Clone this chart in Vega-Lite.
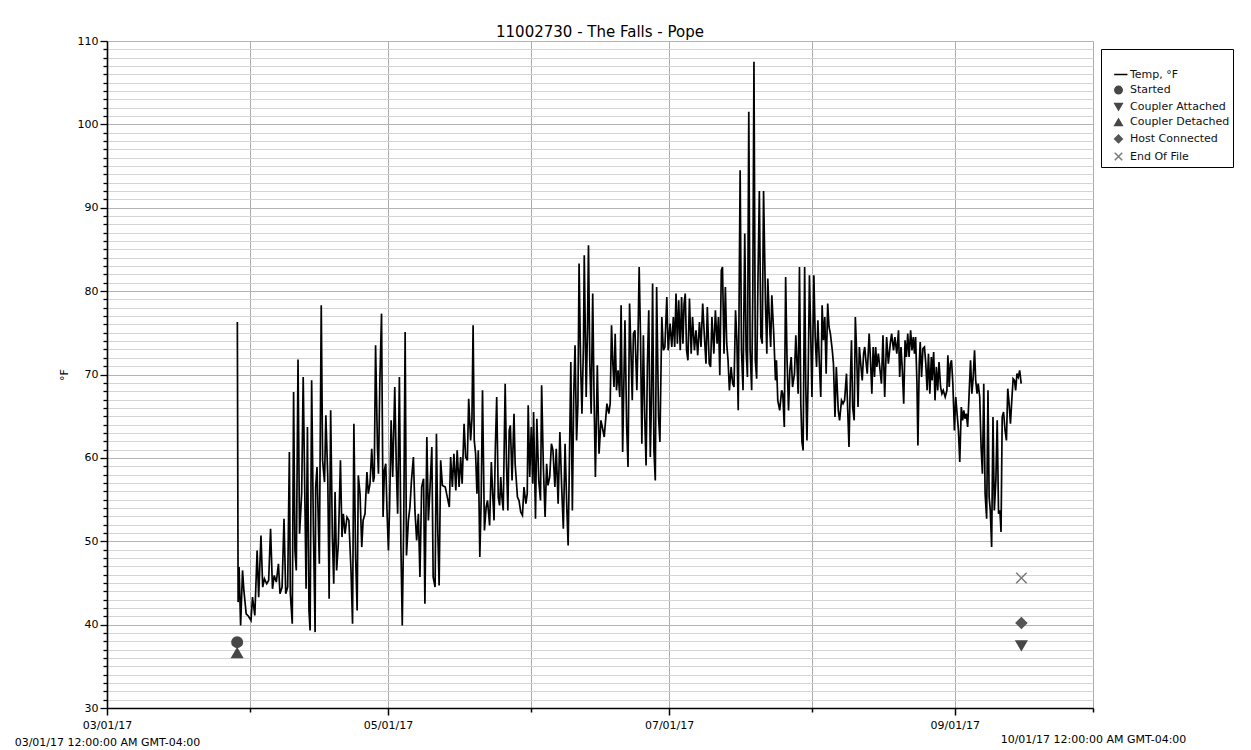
{
"$schema": "https://vega.github.io/schema/vega-lite/v6.json",
"width": 986,
"height": 667,
"autosize": {"type": "none"},
"padding": {"left": 107, "top": 41, "right": 158, "bottom": 42},
"background": "#ffffff",
"title": {"text": "11002730 - The Falls - Pope", "font": "DejaVu Sans", "fontSize": 15, "fontWeight": "normal", "color": "#000000", "anchor": "middle", "offset": 4, "dy": 9},
"config": {
  "font": "DejaVu Sans",
  "view": {"stroke": null},
  "legend": {"orient": "none", "legendX": 994, "legendY": 8, "strokeColor": "#000000", "fillColor": "#ffffff", "padding": 3, "labelFont": "DejaVu Sans", "labelFontSize": 11, "labelColor": "#111111", "labelOffset": 6, "symbolOffset": 9, "symbolSize": 56, "symbolStrokeWidth": 1.5, "rowPadding": 2.6, "titleFontSize": 10, "titlePadding": 7, "labelLimit": 200}
},
"datasets": {
"temp": [
{"t":"2017-03-29T07:00","v":76.3},{"t":"2017-03-29T11:00","v":42.7},{"t":"2017-03-29T16:00","v":46.9},{"t":"2017-03-30T00:00","v":39.9},{"t":"2017-03-30T10:00","v":46.5},{"t":"2017-03-30T17:00","v":44.1},{"t":"2017-03-31T05:00","v":41.3},{"t":"2017-03-31T17:00","v":41.0},{"t":"2017-04-01T06:00","v":40.5},{"t":"2017-04-01T14:00","v":43.3},
{"t":"2017-04-02T02:00","v":41.1},{"t":"2017-04-02T14:00","v":48.9},{"t":"2017-04-02T22:00","v":43.3},{"t":"2017-04-03T10:00","v":50.7},{"t":"2017-04-03T19:00","v":44.5},{"t":"2017-04-04T04:00","v":45.5},{"t":"2017-04-04T16:00","v":44.9},{"t":"2017-04-05T02:00","v":45.3},{"t":"2017-04-05T12:00","v":51.5},{"t":"2017-04-05T22:00","v":44.3},
{"t":"2017-04-06T07:00","v":45.9},{"t":"2017-04-06T18:00","v":45.1},{"t":"2017-04-07T05:00","v":47.3},{"t":"2017-04-07T13:00","v":43.7},{"t":"2017-04-08T00:00","v":44.5},{"t":"2017-04-08T10:00","v":52.7},{"t":"2017-04-08T19:00","v":43.7},{"t":"2017-04-09T05:00","v":44.5},{"t":"2017-04-09T14:00","v":60.7},{"t":"2017-04-09T19:00","v":43.7},
{"t":"2017-04-10T05:00","v":40.1},{"t":"2017-04-10T12:00","v":67.9},{"t":"2017-04-10T19:00","v":48.9},{"t":"2017-04-11T02:00","v":46.5},{"t":"2017-04-11T11:00","v":71.8},{"t":"2017-04-11T19:00","v":50.9},{"t":"2017-04-12T06:00","v":55.7},{"t":"2017-04-12T14:00","v":69.7},{"t":"2017-04-13T00:00","v":52.9},{"t":"2017-04-13T05:00","v":44.3},
{"t":"2017-04-13T12:00","v":63.7},{"t":"2017-04-13T20:00","v":41.7},{"t":"2017-04-14T02:00","v":39.3},{"t":"2017-04-14T10:00","v":69.3},{"t":"2017-04-14T19:00","v":51.7},{"t":"2017-04-15T04:00","v":39.1},{"t":"2017-04-15T07:00","v":56.5},{"t":"2017-04-15T14:00","v":58.9},{"t":"2017-04-16T02:00","v":47.3},{"t":"2017-04-16T12:00","v":78.3},
{"t":"2017-04-16T19:00","v":59.7},{"t":"2017-04-17T05:00","v":57.1},{"t":"2017-04-17T12:00","v":65.1},{"t":"2017-04-17T22:00","v":57.7},{"t":"2017-04-18T05:00","v":43.1},{"t":"2017-04-18T13:00","v":65.7},{"t":"2017-04-18T22:00","v":50.5},{"t":"2017-04-19T05:00","v":44.9},{"t":"2017-04-19T12:00","v":55.9},{"t":"2017-04-19T20:00","v":46.5},
{"t":"2017-04-20T05:00","v":49.7},{"t":"2017-04-20T16:00","v":59.7},{"t":"2017-04-21T00:00","v":50.5},{"t":"2017-04-21T07:00","v":53.3},{"t":"2017-04-21T16:00","v":50.9},{"t":"2017-04-22T02:00","v":52.9},{"t":"2017-04-22T12:00","v":52.5},{"t":"2017-04-22T23:00","v":46.5},{"t":"2017-04-23T07:00","v":40.1},{"t":"2017-04-23T14:00","v":64.1},
{"t":"2017-04-23T23:00","v":48.1},{"t":"2017-04-24T07:00","v":41.7},{"t":"2017-04-24T13:00","v":57.9},{"t":"2017-04-24T22:00","v":55.7},{"t":"2017-04-25T07:00","v":49.3},{"t":"2017-04-25T14:00","v":52.5},{"t":"2017-04-26T00:00","v":53.3},{"t":"2017-04-26T10:00","v":58.3},{"t":"2017-04-26T17:00","v":55.7},{"t":"2017-04-27T02:00","v":56.9},
{"t":"2017-04-27T11:00","v":61.1},{"t":"2017-04-27T19:00","v":57.1},{"t":"2017-04-28T00:00","v":57.7},{"t":"2017-04-28T07:00","v":73.5},{"t":"2017-04-28T17:00","v":61.1},{"t":"2017-04-28T22:00","v":58.1},{"t":"2017-04-29T05:00","v":68.9},{"t":"2017-04-29T14:00","v":77.3},{"t":"2017-04-29T22:00","v":52.9},{"t":"2017-04-30T05:00","v":58.5},
{"t":"2017-04-30T12:00","v":59.3},{"t":"2017-04-30T19:00","v":53.3},{"t":"2017-05-01T02:00","v":48.9},{"t":"2017-05-01T08:00","v":54.1},{"t":"2017-05-01T16:00","v":64.5},{"t":"2017-05-02T00:00","v":57.7},{"t":"2017-05-02T11:00","v":68.5},{"t":"2017-05-02T19:00","v":58.9},{"t":"2017-05-03T02:00","v":53.3},{"t":"2017-05-03T11:00","v":69.7},
{"t":"2017-05-03T19:00","v":49.3},{"t":"2017-05-04T02:00","v":39.9},{"t":"2017-05-04T10:00","v":52.9},{"t":"2017-05-04T17:00","v":75.1},{"t":"2017-05-05T00:00","v":48.3},{"t":"2017-05-05T10:00","v":52.5},{"t":"2017-05-05T18:00","v":54.1},{"t":"2017-05-06T02:00","v":57.3},{"t":"2017-05-06T12:00","v":60.1},{"t":"2017-05-06T20:00","v":53.7},
{"t":"2017-05-07T05:00","v":50.1},{"t":"2017-05-07T14:00","v":53.3},{"t":"2017-05-07T22:00","v":45.7},{"t":"2017-05-08T07:00","v":56.5},{"t":"2017-05-08T17:00","v":57.5},{"t":"2017-05-09T00:00","v":42.5},{"t":"2017-05-09T10:00","v":62.5},{"t":"2017-05-09T18:00","v":52.5},{"t":"2017-05-10T02:00","v":56.1},{"t":"2017-05-10T12:00","v":61.3},
{"t":"2017-05-10T19:00","v":45.7},{"t":"2017-05-11T05:00","v":44.5},{"t":"2017-05-11T12:00","v":62.9},{"t":"2017-05-11T19:00","v":51.3},{"t":"2017-05-12T02:00","v":44.7},{"t":"2017-05-12T10:00","v":59.7},{"t":"2017-05-12T19:00","v":56.7},{"t":"2017-05-13T10:00","v":56.5},{"t":"2017-05-14T00:00","v":54.9},{"t":"2017-05-14T07:00","v":54.1},
{"t":"2017-05-14T14:00","v":60.1},{"t":"2017-05-14T23:00","v":56.5},{"t":"2017-05-15T07:00","v":60.5},{"t":"2017-05-15T17:00","v":56.1},{"t":"2017-05-16T00:00","v":60.9},{"t":"2017-05-16T10:00","v":56.5},{"t":"2017-05-16T18:00","v":60.1},{"t":"2017-05-17T02:00","v":56.9},{"t":"2017-05-17T12:00","v":64.1},{"t":"2017-05-17T20:00","v":60.1},
{"t":"2017-05-18T05:00","v":59.7},{"t":"2017-05-18T12:00","v":67.1},{"t":"2017-05-18T22:00","v":62.1},{"t":"2017-05-19T05:00","v":64.7},{"t":"2017-05-19T11:00","v":75.9},{"t":"2017-05-19T17:00","v":62.1},{"t":"2017-05-20T00:00","v":60.5},{"t":"2017-05-20T07:00","v":55.7},{"t":"2017-05-20T14:00","v":60.9},{"t":"2017-05-20T22:00","v":48.1},
{"t":"2017-05-21T05:00","v":54.9},{"t":"2017-05-21T12:00","v":68.1},{"t":"2017-05-21T22:00","v":51.3},{"t":"2017-05-22T07:00","v":54.1},{"t":"2017-05-22T14:00","v":54.9},{"t":"2017-05-23T01:00","v":51.9},{"t":"2017-05-23T10:00","v":59.5},{"t":"2017-05-23T17:00","v":55.7},{"t":"2017-05-24T00:00","v":52.5},{"t":"2017-05-24T07:00","v":61.3},
{"t":"2017-05-24T14:00","v":67.3},{"t":"2017-05-24T22:00","v":55.3},{"t":"2017-05-25T05:00","v":54.3},{"t":"2017-05-25T11:00","v":57.7},{"t":"2017-05-25T17:00","v":55.3},{"t":"2017-05-26T00:00","v":53.7},{"t":"2017-05-26T10:00","v":68.9},{"t":"2017-05-26T17:00","v":59.3},{"t":"2017-05-27T00:00","v":53.7},{"t":"2017-05-27T07:00","v":63.3},
{"t":"2017-05-27T13:00","v":63.9},{"t":"2017-05-27T22:00","v":57.3},{"t":"2017-05-28T08:00","v":65.3},{"t":"2017-05-28T14:00","v":59.3},{"t":"2017-05-29T02:00","v":55.3},{"t":"2017-05-29T10:00","v":54.9},{"t":"2017-05-29T19:00","v":53.5},{"t":"2017-05-30T04:00","v":53.1},{"t":"2017-05-30T12:00","v":56.5},{"t":"2017-05-30T22:00","v":54.5},
{"t":"2017-05-31T05:00","v":55.7},{"t":"2017-05-31T10:00","v":66.3},{"t":"2017-05-31T18:00","v":57.7},{"t":"2017-06-01T02:00","v":63.7},{"t":"2017-06-01T10:00","v":56.9},{"t":"2017-06-01T14:00","v":65.5},{"t":"2017-06-02T00:00","v":52.7},{"t":"2017-06-02T07:00","v":64.7},{"t":"2017-06-02T17:00","v":57.3},{"t":"2017-06-03T02:00","v":54.9},
{"t":"2017-06-03T08:00","v":68.7},{"t":"2017-06-03T17:00","v":58.9},{"t":"2017-06-04T02:00","v":52.9},{"t":"2017-06-04T10:00","v":59.3},{"t":"2017-06-04T17:00","v":56.7},{"t":"2017-06-05T02:00","v":57.7},{"t":"2017-06-05T11:00","v":61.7},{"t":"2017-06-05T19:00","v":60.9},{"t":"2017-06-06T05:00","v":56.5},{"t":"2017-06-06T12:00","v":61.1},
{"t":"2017-06-06T22:00","v":54.5},{"t":"2017-06-07T07:00","v":63.1},{"t":"2017-06-07T17:00","v":56.1},{"t":"2017-06-08T01:00","v":51.5},{"t":"2017-06-08T10:00","v":61.7},{"t":"2017-06-08T19:00","v":54.1},{"t":"2017-06-09T02:00","v":49.5},{"t":"2017-06-09T08:00","v":58.5},{"t":"2017-06-09T16:00","v":71.5},{"t":"2017-06-10T00:00","v":53.7},
{"t":"2017-06-10T07:00","v":67.3},{"t":"2017-06-10T14:00","v":73.5},{"t":"2017-06-10T22:00","v":62.1},{"t":"2017-06-11T05:00","v":66.5},{"t":"2017-06-11T11:00","v":83.3},{"t":"2017-06-11T19:00","v":71.3},{"t":"2017-06-12T02:00","v":65.3},{"t":"2017-06-12T10:00","v":73.7},{"t":"2017-06-12T14:00","v":84.3},{"t":"2017-06-13T00:00","v":67.3},
{"t":"2017-06-13T07:00","v":75.7},{"t":"2017-06-13T12:00","v":85.5},{"t":"2017-06-13T19:00","v":71.3},{"t":"2017-06-14T02:00","v":65.3},{"t":"2017-06-14T10:00","v":79.7},{"t":"2017-06-14T17:00","v":67.3},{"t":"2017-06-15T00:00","v":57.7},{"t":"2017-06-15T10:00","v":71.1},{"t":"2017-06-15T19:00","v":60.5},{"t":"2017-06-16T05:00","v":64.5},
{"t":"2017-06-16T12:00","v":63.7},{"t":"2017-06-16T22:00","v":62.5},{"t":"2017-06-17T05:00","v":64.5},{"t":"2017-06-17T12:00","v":66.5},{"t":"2017-06-17T22:00","v":65.3},{"t":"2017-06-18T05:00","v":66.5},{"t":"2017-06-18T12:00","v":75.9},{"t":"2017-06-18T19:00","v":71.3},{"t":"2017-06-19T01:00","v":68.5},{"t":"2017-06-19T07:00","v":74.9},
{"t":"2017-06-19T14:00","v":68.1},{"t":"2017-06-19T22:00","v":70.5},{"t":"2017-06-20T07:00","v":67.3},{"t":"2017-06-20T14:00","v":78.3},{"t":"2017-06-20T22:00","v":60.7},{"t":"2017-06-21T10:00","v":76.5},{"t":"2017-06-21T19:00","v":63.7},{"t":"2017-06-22T02:00","v":58.9},{"t":"2017-06-22T10:00","v":78.5},{"t":"2017-06-22T17:00","v":72.9},
{"t":"2017-06-23T00:00","v":66.9},{"t":"2017-06-23T06:00","v":74.9},{"t":"2017-06-23T14:00","v":75.3},{"t":"2017-06-24T00:00","v":68.1},{"t":"2017-06-24T05:00","v":73.1},{"t":"2017-06-24T12:00","v":82.9},{"t":"2017-06-24T19:00","v":74.5},{"t":"2017-06-25T02:00","v":61.7},{"t":"2017-06-25T10:00","v":74.7},{"t":"2017-06-25T17:00","v":64.9},
{"t":"2017-06-26T00:00","v":59.1},{"t":"2017-06-26T07:00","v":71.3},{"t":"2017-06-26T14:00","v":77.7},{"t":"2017-06-26T22:00","v":60.1},{"t":"2017-06-27T04:00","v":66.9},{"t":"2017-06-27T10:00","v":80.9},{"t":"2017-06-27T17:00","v":60.9},{"t":"2017-06-28T00:00","v":57.3},{"t":"2017-06-28T07:00","v":80.5},{"t":"2017-06-28T17:00","v":64.9},
{"t":"2017-06-29T00:00","v":61.9},{"t":"2017-06-29T10:00","v":76.9},{"t":"2017-06-29T18:00","v":72.9},{"t":"2017-06-30T02:00","v":73.3},{"t":"2017-06-30T12:00","v":79.3},{"t":"2017-06-30T19:00","v":72.9},{"t":"2017-07-01T05:00","v":76.1},{"t":"2017-07-01T14:00","v":73.3},{"t":"2017-07-01T22:00","v":76.9},{"t":"2017-07-02T05:00","v":73.3},
{"t":"2017-07-02T12:00","v":79.7},{"t":"2017-07-02T19:00","v":73.7},{"t":"2017-07-03T02:00","v":78.9},{"t":"2017-07-03T10:00","v":72.9},{"t":"2017-07-03T17:00","v":79.3},{"t":"2017-07-04T00:00","v":73.7},{"t":"2017-07-04T06:00","v":78.5},{"t":"2017-07-04T12:00","v":79.7},{"t":"2017-07-04T19:00","v":72.9},{"t":"2017-07-05T02:00","v":71.7},
{"t":"2017-07-05T10:00","v":79.1},{"t":"2017-07-05T19:00","v":72.5},{"t":"2017-07-06T02:00","v":76.9},{"t":"2017-07-06T12:00","v":72.9},{"t":"2017-07-06T20:00","v":75.3},{"t":"2017-07-07T05:00","v":72.3},{"t":"2017-07-07T14:00","v":76.3},{"t":"2017-07-07T22:00","v":73.3},{"t":"2017-07-08T07:00","v":78.5},{"t":"2017-07-08T16:00","v":74.5},
{"t":"2017-07-09T00:00","v":71.3},{"t":"2017-07-09T07:00","v":78.1},{"t":"2017-07-09T17:00","v":71.3},{"t":"2017-07-10T00:00","v":70.9},{"t":"2017-07-10T07:00","v":76.9},{"t":"2017-07-10T17:00","v":72.5},{"t":"2017-07-11T01:00","v":77.7},{"t":"2017-07-11T10:00","v":73.7},{"t":"2017-07-11T17:00","v":76.9},{"t":"2017-07-12T00:00","v":69.9},
{"t":"2017-07-12T08:00","v":82.5},{"t":"2017-07-12T14:00","v":82.9},{"t":"2017-07-12T22:00","v":72.5},{"t":"2017-07-13T05:00","v":80.5},{"t":"2017-07-13T12:00","v":73.7},{"t":"2017-07-13T19:00","v":71.7},{"t":"2017-07-14T02:00","v":68.1},{"t":"2017-07-14T11:00","v":70.9},{"t":"2017-07-14T19:00","v":68.9},{"t":"2017-07-15T02:00","v":68.5},
{"t":"2017-07-15T10:00","v":77.7},{"t":"2017-07-15T17:00","v":74.1},{"t":"2017-07-16T00:00","v":65.7},{"t":"2017-07-16T10:00","v":94.5},{"t":"2017-07-16T17:00","v":72.9},{"t":"2017-07-17T01:00","v":68.1},{"t":"2017-07-17T10:00","v":86.9},{"t":"2017-07-17T17:00","v":72.9},{"t":"2017-07-18T00:00","v":69.7},{"t":"2017-07-18T07:00","v":101.5},
{"t":"2017-07-18T14:00","v":72.9},{"t":"2017-07-18T22:00","v":68.1},{"t":"2017-07-19T04:00","v":80.1},{"t":"2017-07-19T10:00","v":107.5},{"t":"2017-07-19T17:00","v":71.7},{"t":"2017-07-20T00:00","v":69.5},{"t":"2017-07-20T07:00","v":81.7},{"t":"2017-07-20T14:00","v":92.0},{"t":"2017-07-20T22:00","v":74.5},{"t":"2017-07-21T05:00","v":73.7},
{"t":"2017-07-21T12:00","v":92.0},{"t":"2017-07-21T22:00","v":78.5},{"t":"2017-07-22T05:00","v":72.5},{"t":"2017-07-22T10:00","v":81.5},{"t":"2017-07-22T19:00","v":76.1},{"t":"2017-07-23T01:00","v":73.3},{"t":"2017-07-23T07:00","v":79.5},{"t":"2017-07-23T17:00","v":74.9},{"t":"2017-07-24T02:00","v":69.3},{"t":"2017-07-24T07:00","v":71.7},
{"t":"2017-07-24T14:00","v":66.9},{"t":"2017-07-25T00:00","v":65.7},{"t":"2017-07-25T10:00","v":68.1},{"t":"2017-07-25T16:00","v":67.7},{"t":"2017-07-26T00:00","v":63.7},{"t":"2017-07-26T07:00","v":81.7},{"t":"2017-07-26T14:00","v":72.1},{"t":"2017-07-26T22:00","v":65.7},{"t":"2017-07-27T05:00","v":70.5},{"t":"2017-07-27T12:00","v":72.1},
{"t":"2017-07-27T19:00","v":68.5},{"t":"2017-07-28T05:00","v":70.1},{"t":"2017-07-28T12:00","v":74.7},{"t":"2017-07-28T19:00","v":70.9},{"t":"2017-07-29T00:00","v":67.7},{"t":"2017-07-29T07:00","v":82.9},{"t":"2017-07-29T14:00","v":66.5},{"t":"2017-07-29T20:00","v":61.9},{"t":"2017-07-30T02:00","v":60.9},{"t":"2017-07-30T10:00","v":82.9},
{"t":"2017-07-30T16:00","v":68.5},{"t":"2017-07-30T22:00","v":62.1},{"t":"2017-07-31T04:00","v":69.3},{"t":"2017-07-31T11:00","v":81.9},{"t":"2017-07-31T17:00","v":75.7},{"t":"2017-08-01T00:00","v":67.3},{"t":"2017-08-01T10:00","v":81.9},{"t":"2017-08-01T17:00","v":74.5},{"t":"2017-08-02T00:00","v":70.9},{"t":"2017-08-02T07:00","v":76.5},
{"t":"2017-08-02T14:00","v":71.7},{"t":"2017-08-02T22:00","v":67.3},{"t":"2017-08-03T05:00","v":78.3},{"t":"2017-08-03T12:00","v":74.1},{"t":"2017-08-03T19:00","v":76.9},{"t":"2017-08-04T02:00","v":70.1},{"t":"2017-08-04T10:00","v":78.5},{"t":"2017-08-04T17:00","v":75.7},{"t":"2017-08-05T00:00","v":74.9},{"t":"2017-08-05T10:00","v":72.9},
{"t":"2017-08-05T16:00","v":71.3},{"t":"2017-08-06T00:00","v":64.9},{"t":"2017-08-06T07:00","v":70.9},{"t":"2017-08-06T17:00","v":65.7},{"t":"2017-08-07T00:00","v":64.5},{"t":"2017-08-07T10:00","v":66.9},{"t":"2017-08-07T18:00","v":66.5},{"t":"2017-08-08T02:00","v":66.9},{"t":"2017-08-08T12:00","v":70.1},{"t":"2017-08-08T19:00","v":65.3},
{"t":"2017-08-09T01:00","v":61.3},{"t":"2017-08-09T08:00","v":69.3},{"t":"2017-08-09T14:00","v":74.1},{"t":"2017-08-09T20:00","v":66.1},{"t":"2017-08-10T04:00","v":64.5},{"t":"2017-08-10T10:00","v":76.9},{"t":"2017-08-10T17:00","v":72.5},{"t":"2017-08-11T00:00","v":66.1},{"t":"2017-08-11T07:00","v":73.3},{"t":"2017-08-11T14:00","v":71.3},
{"t":"2017-08-11T22:00","v":69.3},{"t":"2017-08-12T05:00","v":72.5},{"t":"2017-08-12T11:00","v":73.3},{"t":"2017-08-12T17:00","v":71.7},{"t":"2017-08-13T00:00","v":70.1},{"t":"2017-08-13T10:00","v":74.9},{"t":"2017-08-13T17:00","v":71.7},{"t":"2017-08-14T00:00","v":67.7},{"t":"2017-08-14T07:00","v":73.3},{"t":"2017-08-14T14:00","v":69.7},
{"t":"2017-08-14T20:00","v":73.3},{"t":"2017-08-15T02:00","v":70.9},{"t":"2017-08-15T10:00","v":72.5},{"t":"2017-08-15T17:00","v":70.9},{"t":"2017-08-16T02:00","v":68.9},{"t":"2017-08-16T10:00","v":74.7},{"t":"2017-08-16T19:00","v":67.3},{"t":"2017-08-17T05:00","v":74.5},{"t":"2017-08-17T14:00","v":71.3},{"t":"2017-08-18T00:00","v":73.7},
{"t":"2017-08-18T07:00","v":74.9},{"t":"2017-08-18T17:00","v":72.9},{"t":"2017-08-19T00:00","v":74.5},{"t":"2017-08-19T10:00","v":72.5},{"t":"2017-08-19T19:00","v":75.3},{"t":"2017-08-20T01:00","v":69.7},{"t":"2017-08-20T08:00","v":73.3},{"t":"2017-08-20T14:00","v":70.9},{"t":"2017-08-20T22:00","v":66.5},{"t":"2017-08-21T05:00","v":74.1},
{"t":"2017-08-21T12:00","v":72.1},{"t":"2017-08-21T19:00","v":74.9},{"t":"2017-08-22T02:00","v":72.1},{"t":"2017-08-22T10:00","v":75.3},{"t":"2017-08-22T17:00","v":72.9},{"t":"2017-08-23T00:00","v":74.5},{"t":"2017-08-23T06:00","v":72.5},{"t":"2017-08-23T12:00","v":74.5},{"t":"2017-08-23T19:00","v":68.9},{"t":"2017-08-24T00:00","v":61.5},
{"t":"2017-08-24T07:00","v":71.3},{"t":"2017-08-24T12:00","v":73.9},{"t":"2017-08-24T19:00","v":69.7},{"t":"2017-08-25T02:00","v":73.1},{"t":"2017-08-25T10:00","v":73.3},{"t":"2017-08-25T17:00","v":71.3},{"t":"2017-08-26T00:00","v":68.1},{"t":"2017-08-26T07:00","v":72.5},{"t":"2017-08-26T14:00","v":67.7},{"t":"2017-08-26T22:00","v":72.1},
{"t":"2017-08-27T02:00","v":69.3},{"t":"2017-08-27T10:00","v":72.7},{"t":"2017-08-27T17:00","v":66.9},{"t":"2017-08-28T00:00","v":70.9},{"t":"2017-08-28T07:00","v":68.1},{"t":"2017-08-28T14:00","v":71.5},{"t":"2017-08-28T22:00","v":68.5},{"t":"2017-08-29T05:00","v":67.7},{"t":"2017-08-29T12:00","v":68.1},{"t":"2017-08-29T22:00","v":67.3},
{"t":"2017-08-30T07:00","v":68.1},{"t":"2017-08-30T12:00","v":72.3},{"t":"2017-08-30T19:00","v":68.5},{"t":"2017-08-31T01:00","v":71.3},{"t":"2017-08-31T07:00","v":71.7},{"t":"2017-08-31T14:00","v":68.9},{"t":"2017-08-31T22:00","v":63.3},{"t":"2017-09-01T05:00","v":67.3},{"t":"2017-09-01T12:00","v":65.3},{"t":"2017-09-01T19:00","v":63.3},
{"t":"2017-09-02T02:00","v":59.5},{"t":"2017-09-02T10:00","v":66.1},{"t":"2017-09-02T17:00","v":64.5},{"t":"2017-09-02T23:00","v":65.7},{"t":"2017-09-03T05:00","v":64.7},{"t":"2017-09-03T12:00","v":65.3},{"t":"2017-09-03T19:00","v":63.7},{"t":"2017-09-04T02:00","v":67.3},{"t":"2017-09-04T10:00","v":71.7},{"t":"2017-09-04T17:00","v":67.7},
{"t":"2017-09-05T00:00","v":69.7},{"t":"2017-09-05T07:00","v":72.9},{"t":"2017-09-05T13:00","v":69.3},{"t":"2017-09-05T20:00","v":67.7},{"t":"2017-09-06T02:00","v":68.9},{"t":"2017-09-06T10:00","v":67.3},{"t":"2017-09-06T17:00","v":61.3},{"t":"2017-09-07T00:00","v":58.1},{"t":"2017-09-07T07:00","v":68.9},{"t":"2017-09-07T14:00","v":55.7},
{"t":"2017-09-07T22:00","v":52.7},{"t":"2017-09-08T05:00","v":68.1},{"t":"2017-09-08T11:00","v":55.3},{"t":"2017-09-08T17:00","v":53.7},{"t":"2017-09-09T00:00","v":49.3},{"t":"2017-09-09T07:00","v":64.9},{"t":"2017-09-09T14:00","v":53.7},{"t":"2017-09-09T22:00","v":57.3},{"t":"2017-09-10T05:00","v":64.5},{"t":"2017-09-10T12:00","v":53.3},
{"t":"2017-09-10T19:00","v":53.7},{"t":"2017-09-11T01:00","v":51.1},{"t":"2017-09-11T07:00","v":64.9},{"t":"2017-09-11T14:00","v":65.5},{"t":"2017-09-11T22:00","v":63.3},{"t":"2017-09-12T05:00","v":62.1},{"t":"2017-09-12T12:00","v":68.3},{"t":"2017-09-12T19:00","v":66.5},{"t":"2017-09-13T02:00","v":64.1},{"t":"2017-09-13T10:00","v":67.3},
{"t":"2017-09-13T16:00","v":69.5},{"t":"2017-09-13T23:00","v":69.3},{"t":"2017-09-14T05:00","v":68.1},{"t":"2017-09-14T12:00","v":70.1},{"t":"2017-09-14T19:00","v":69.7},{"t":"2017-09-15T02:00","v":70.5},{"t":"2017-09-15T10:00","v":68.9}
],
"events": [
{"t":"2017-03-29T06:00","v":37.9,"event":"Started"},
{"t":"2017-03-29T06:00","v":36.6,"event":"Coupler Detached"},
{"t":"2017-09-15T11:00","v":37.5,"event":"Coupler Attached"},
{"t":"2017-09-15T11:00","v":40.2,"event":"Host Connected"},
{"t":"2017-09-15T11:00","v":45.6,"event":"End Of File"}
]
},
"layer": [
{
 "data": {"name": "temp"},
 "mark": {"type": "line", "color": "#000000", "strokeWidth": 1.7, "clip": true},
 "encoding": {
  "x": {"field": "t", "type": "temporal", "title": null,
   "scale": {"domain": [{"year": 2017, "month": "mar", "date": 1}, {"year": 2017, "month": "oct", "date": 1}]},
   "axis": {
    "values": [{"year": 2017, "month": "mar", "date": 1}, {"year": 2017, "month": "apr", "date": 1}, {"year": 2017, "month": "may", "date": 1}, {"year": 2017, "month": "jun", "date": 1}, {"year": 2017, "month": "jul", "date": 1}, {"year": 2017, "month": "aug", "date": 1}, {"year": 2017, "month": "sep", "date": 1}, {"year": 2017, "month": "oct", "date": 1}],
    "tickCount": 50,
    "labelExpr": "month(datum.value) == 2 ? ['03/01/17', '03/01/17 12:00:00 AM GMT-04:00'] : month(datum.value) == 9 ? ['', '10/01/17 12:00:00 AM GMT-04:00'] : (month(datum.value) % 2 == 0 ? timeFormat(datum.value, '%m/%d/%y') : '')",
    "labelFlush": false, "labelOverlap": false, "labelBound": false, "labelLimit": 0,
    "labelFont": "DejaVu Sans", "labelFontSize": 11, "labelColor": "#000000", "labelPadding": 4, "labelLineHeight": 17,
    "tickSize": {"condition": {"test": "month(datum.value) % 2 == 0", "value": 7}, "value": 4},
    "tickColor": "#000000", "tickWidth": 1.5,
    "domainColor": "#000000", "domainWidth": 1.6,
    "grid": true, "gridColor": "#ababab", "gridWidth": 1
   }
  },
  "y": {"field": "v", "type": "quantitative", "title": "°F",
   "scale": {"domain": [30, 110], "nice": false, "zero": false},
   "axis": {
    "values": [30,31,32,33,34,35,36,37,38,39,40,41,42,43,44,45,46,47,48,49,50,51,52,53,54,55,56,57,58,59,60,61,62,63,64,65,66,67,68,69,70,71,72,73,74,75,76,77,78,79,80,81,82,83,84,85,86,87,88,89,90,91,92,93,94,95,96,97,98,99,100,101,102,103,104,105,106,107,108,109,110],
    "tickCount": 200,
    "labelExpr": "datum.value % 10 == 0 ? format(datum.value, 'd') : ''",
    "labelOverlap": false, "labelFont": "DejaVu Sans", "labelFontSize": 11, "labelColor": "#000000", "labelPadding": 2,
    "tickSize": {"condition": {"test": "datum.value % 10 == 0", "value": 7}, "value": 4},
    "tickColor": "#000000", "tickWidth": 1.3,
    "domainColor": "#000000", "domainWidth": 1.6,
    "grid": true, "gridColor": {"condition": {"test": "datum.value % 10 == 0", "value": "#b4b4b4"}, "value": "#d4d4d4"}, "gridWidth": 1,
    "titleFont": "DejaVu Sans", "titleFontSize": 11, "titleFontWeight": "normal", "titleColor": "#000000", "titlePadding": 8
   }
  }
 }
},
{
 "data": {"name": "events"},
 "mark": {"type": "point", "filled": true, "size": 110, "opacity": 1, "strokeWidth": 1.5},
 "encoding": {
  "x": {"field": "t", "type": "temporal"},
  "y": {"field": "v", "type": "quantitative"},
  "color": {"field": "event", "type": "nominal",
   "scale": {"domain": ["Temp, °F", "Started", "Coupler Attached", "Coupler Detached", "Host Connected", "End Of File"], "range": ["#000000", "#474747", "#474747", "#474747", "#555555", "#7a7a7a"]},
   "legend": {"title": " "}},
  "shape": {"field": "event", "type": "nominal",
   "scale": {"domain": ["Temp, °F", "Started", "Coupler Attached", "Coupler Detached", "Host Connected", "End Of File"], "range": ["M-1.15,0H2.4", "circle", "triangle-down", "triangle-up", "diamond", "M-1,-1L1,1M-1,1L1,-1"]},
   "legend": {"title": " "}},
  "stroke": {"field": "event", "type": "nominal",
   "scale": {"domain": ["Temp, °F", "Started", "Coupler Attached", "Coupler Detached", "Host Connected", "End Of File"], "range": ["#000000", "#474747", "#474747", "#474747", "#555555", "#7a7a7a"]},
   "legend": {"title": " "}}
 }
}
]
}
